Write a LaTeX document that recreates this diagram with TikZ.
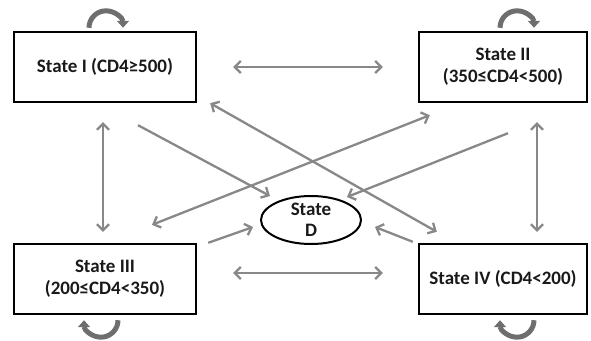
\documentclass[tikz,border=0pt]{standalone}
\usepackage{fontspec}
\setmainfont{Carlito}
\usetikzlibrary{arrows.meta,shapes.geometric}
\definecolor{arrgray}{HTML}{888888}
\definecolor{loopgray}{HTML}{6E6E6E}
\tikzset{
    statebox/.style={draw,line width=2.4pt,minimum height=70pt,align=center,
        font=\fontsize{19}{22}\selectfont\bfseries,text=black!90},
    arr/.style={arrgray,line width=2.3pt,-{Straight Barb[length=6pt,width=12pt]}},
    darr/.style={arr,{Straight Barb[length=6pt,width=12pt]}-{Straight Barb[length=6pt,width=12pt]}},
    selfloop/.style={loopgray,line width=5pt,-{Triangle[length=7pt,width=12pt]}}
}
\begin{document}
\begin{tikzpicture}[x=1pt,y=-1pt]
    \useasboundingbox (0,0) rectangle (591,340);
    \node[statebox,minimum width=182pt] (s1) at (105,67) {State I (CD4≥500)};
    \node[statebox,minimum width=168pt] (s2) at (503,67) {State II\\(350≤CD4<500)};
    \node[statebox,minimum width=182pt] (s3) at (105,279) {State III\\(200≤CD4<350)};
    \node[statebox,minimum width=168pt] (s4) at (503,279) {State IV (CD4<200)};
    \node[ellipse,draw,line width=2pt,minimum width=100pt,minimum height=48pt,inner sep=0pt,
        align=center,font=\fontsize{19}{21}\selectfont\bfseries,text=black!90] (d) at (311,220) {State\\D};
\draw[darr]([xshift=36pt]s1.east)--([xshift=-35pt]s2.west);
\draw[darr]([shift={(36,-6)}]s3.east)--([shift={(-35,-6)}]s4.west);
\draw[darr]([shift={(-2,19)}]s1.south)--([shift={(-2,-11)}]s3.north);
\draw[darr]([shift={(34,19)}]s2.south)--([shift={(34,-11)}]s4.north);
\draw[darr]([shift={(13,0)}]s1.south east)--([shift={(19,-11)}]s4.north west);
\draw[darr]([shift={(47,-18)}]s3.north)--([shift={(12,12)}]s2.south west);
\draw[arr]([shift={(33,22)}]s1.south)--([shift={(-41,-24)}]d.center);
\draw[arr]([shift={(5,30)}]s2.south)--([shift={(36,-23)}]d.center);
\draw[arr]([shift={(11,0)}]s3.north east)--([shift={(-58,7)}]d.center);
\draw[arr]([shift={(-5,-1)}]s4.north west)--([shift={(64,7)}]d.center);
\draw[selfloop]([shift={(-16,-3)}]s1.north) arc[start angle=180,end angle=360,radius=17];
\draw[selfloop]([shift={(-3,-3)}]s2.north) arc[start angle=180,end angle=360,radius=17];
\draw[selfloop]([shift={(13,5)}]s3.south) arc[start angle=0,end angle=180,radius=17];
\draw[selfloop]([shift={(31,5)}]s4.south) arc[start angle=0,end angle=180,radius=17];
\end{tikzpicture}
\end{document}
